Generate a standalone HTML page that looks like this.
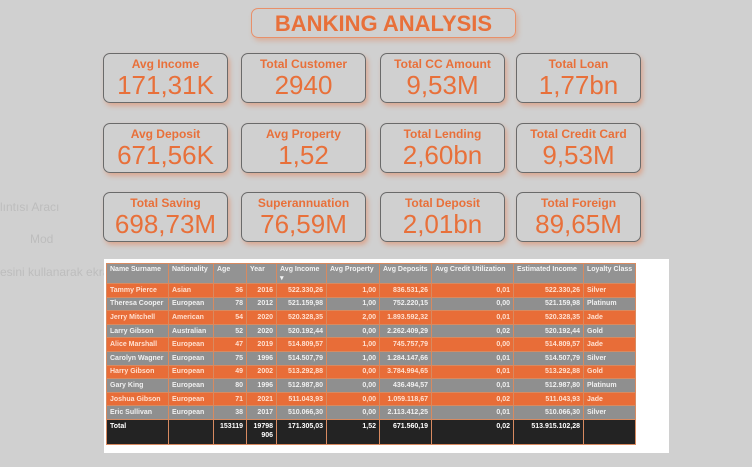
<!DOCTYPE html>
<html><head><meta charset="utf-8"><style>
body{margin:0;width:752px;height:467px;background:#d0d0d0;font-family:"Liberation Sans",sans-serif;position:relative;overflow:hidden}
.title{position:absolute;left:251px;top:8px;width:263px;height:28px;border:1px solid #e8906a;border-radius:7px;box-shadow:2px 3px 5px rgba(230,120,70,.35);color:#e8703a;font-weight:bold;font-size:22px;text-align:center;line-height:29px}
.card{position:absolute;width:123px;height:48px;border:1px solid #6a6a6a;border-radius:7px;box-shadow:2px 3px 5px rgba(230,120,70,.45);text-align:center;color:#e8703a}
.card .l{font-size:12px;font-weight:bold;margin-top:3px;line-height:14px}
.card .v{font-size:26px;line-height:28px}
.ghost{position:absolute;color:#bdbdbd;font-size:12px}
.panel{position:absolute;left:104px;top:259px;width:565px;height:194px;background:#fff}
table{position:absolute;left:2px;top:4px;border-collapse:collapse;font-size:7px;font-weight:bold;table-layout:fixed}
td,th{border:1px solid #d88a60;padding:0 3px;white-space:nowrap;overflow:hidden;line-height:9px}
th{background:#939393;color:#f4f4f4;height:17px;text-align:left;vertical-align:top;padding-top:1px}
td{height:12.6px;text-align:right}
td.t{text-align:left}
tr.o td{background:#e86d38;color:#ffe0d0}
tr.g td{background:#8f8f8f;color:#f0f0f0}
tr.tot td{background:#232323;color:#fff;height:22px;vertical-align:top;padding-top:2px}
</style></head><body>
<div class="ghost" style="left:0;top:200px">lıntısı Aracı</div>
<div class="ghost" style="left:30px;top:232px">Mod</div>
<div class="ghost" style="left:0;top:265px">esini kullanarak ekra</div>
<div class="title">BANKING ANALYSIS</div>
<div id="cards"></div>
<div class="panel">
<table>
<colgroup><col style="width:62px"><col style="width:45px"><col style="width:33px"><col style="width:30px"><col style="width:50px"><col style="width:53px"><col style="width:52px"><col style="width:82px"><col style="width:70px"><col style="width:51px"></colgroup>
<thead><tr><th>Name Surname</th><th>Nationality</th><th>Age</th><th>Year</th><th>Avg Income<br>▾</th><th>Avg Property</th><th>Avg Deposits</th><th>Avg Credit Utilization</th><th>Estimated Income</th><th>Loyalty Class</th></tr></thead>
<tbody id="tb"></tbody>
</table></div>
<script>
const cardLabels=["Avg Income","Total Customer","Total CC Amount","Total Loan","Avg Deposit","Avg Property","Total Lending","Total Credit Card","Total Saving","Superannuation","Total Deposit","Total Foreign"];
const cardValues=["171,31K","2940","9,53M","1,77bn","671,56K","1,52","2,60bn","9,53M","698,73M","76,59M","2,01bn","89,65M"];
const cx=[103,241,380,516],cy=[53,123,192];
const cc=document.getElementById('cards');
cardLabels.forEach((l,i)=>{const d=document.createElement('div');d.className='card';


d.style.left=cx[i%4]+'px';d.style.top=cy[Math.floor(i/4)]+'px';
d.innerHTML='<div class="l">'+l+'</div><div class="v">'+cardValues[i]+'</div>';cc.appendChild(d);});
const rows=[
["Tammy Pierce","Asian","36","2016","522.330,26","1,00","836.531,26","0,01","522.330,26","Silver"],
["Theresa Cooper","European","78","2012","521.159,98","1,00","752.220,15","0,00","521.159,98","Platinum"],
["Jerry Mitchell","American","54","2020","520.328,35","2,00","1.893.592,32","0,01","520.328,35","Jade"],
["Larry Gibson","Australian","52","2020","520.192,44","0,00","2.262.409,29","0,02","520.192,44","Gold"],
["Alice Marshall","European","47","2019","514.809,57","1,00","745.757,79","0,00","514.809,57","Jade"],
["Carolyn Wagner","European","75","1996","514.507,79","1,00","1.284.147,66","0,01","514.507,79","Silver"],
["Harry Gibson","European","49","2002","513.292,88","0,00","3.784.994,65","0,01","513.292,88","Gold"],
["Gary King","European","80","1996","512.987,80","0,00","436.494,57","0,01","512.987,80","Platinum"],
["Joshua Gibson","European","71","2021","511.043,93","0,00","1.059.118,67","0,02","511.043,93","Jade"],
["Eric Sullivan","European","38","2017","510.066,30","0,00","2.113.412,25","0,01","510.066,30","Silver"]];
const total=["Total","","153119","19798<br>906","171.305,03","1,52","671.560,19","0,02","513.915.102,28",""];
const tb=document.getElementById('tb');
rows.forEach((r,i)=>{const tr=document.createElement('tr');tr.className=i%2?'g':'o';


tr.innerHTML=r.map((c,j)=>'<td class="'+((j<2||j==9)?'t':'')+'">'+c+'</td>').join('');tb.appendChild(tr);});
const tt=document.createElement('tr');tt.className='tot';


tt.innerHTML=total.map((c,j)=>'<td class="'+(j<2?'t':'')+'">'+c+'</td>').join('');tb.appendChild(tt);
</script>
</body></html>
